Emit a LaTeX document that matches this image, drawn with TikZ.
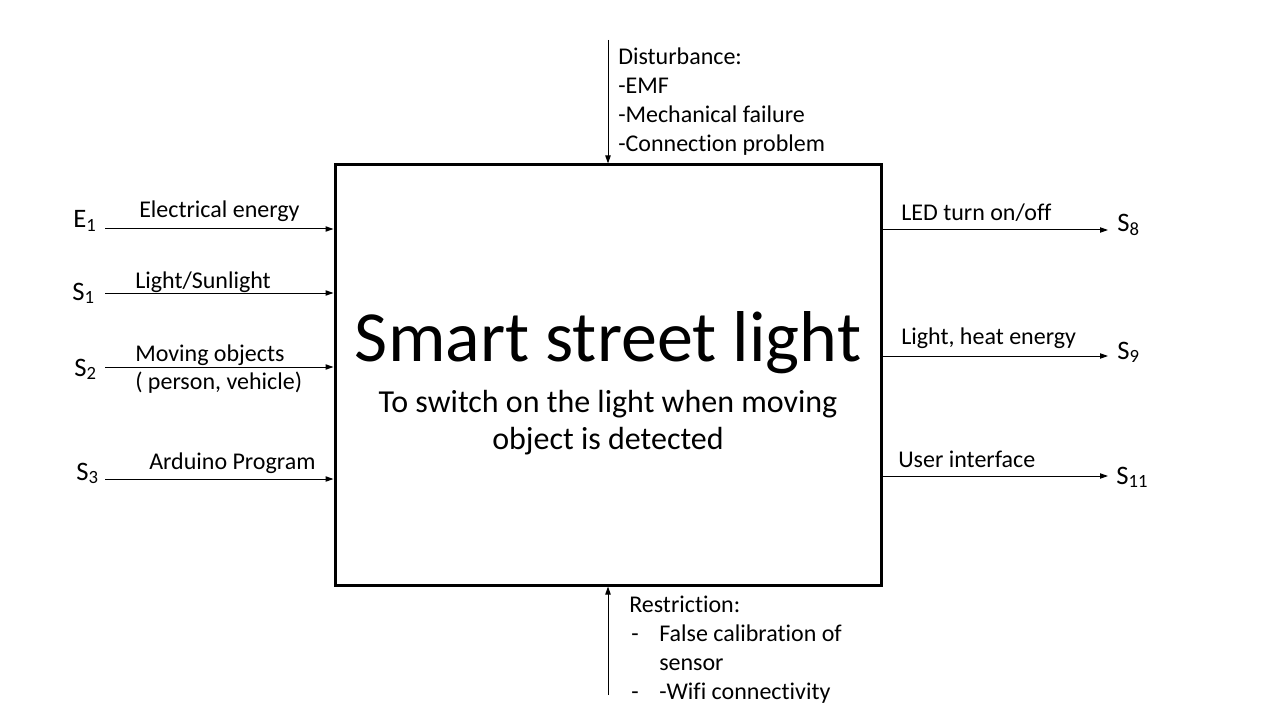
\documentclass[tikz,border=0pt]{standalone}
\usepackage{fontspec}
\setmainfont{Carlito}[Ligatures={NoCommon}]
\usetikzlibrary{arrows.meta}
\newcommand{\mysub}[1]{\raisebox{-0.12em}{\fontsize{14}{16}\selectfont #1}}
\begin{document}
\begin{tikzpicture}[x=0.75pt,y=-0.75pt,
  lbl/.style={font=\fontsize{18}{21.6}\selectfont, inner sep=0, anchor=base west},
  sym/.style={font=\fontsize{20}{24}\selectfont, inner sep=0, anchor=base west},
  arr/.style={-{Triangle[length=6pt,width=4pt]}, line width=0.75pt}]
\useasboundingbox (0,0) rectangle (1280,720);
\node (box) [draw, line width=2.25pt, inner sep=0, minimum width=409.5pt, minimum height=315pt] at (608,375) {};
\node (title) [inner sep=0, anchor=base, font=\fontsize{54}{64}\selectfont] at (608,361) {Smart street light};
\node (sub1) [inner sep=0, anchor=base, font=\fontsize{24}{28.8}\selectfont] at (608,412) {To switch on the light when moving};
\node (sub2) [inner sep=0, anchor=base, font=\fontsize{24}{28.8}\selectfont] at (608,449) {object is detected};
% inputs
\node (e1) [sym] at (73,228) {E\mysub{1}};
\node (s1) [sym] at (72,300) {S\mysub{1}};
\node (s2) [sym] at (74,376) {S\mysub{2}};
\node (s3) [sym] at (76,480) {S\mysub{3}};
\coordinate (ie1) at (105,229);
\coordinate (is1) at (105,293);
\coordinate (is2) at (105,367);
\coordinate (is3) at (105,479);
\draw[arr] (ie1) -- (box.west |- ie1);
\draw[arr] (is1) -- (box.west |- is1);
\draw[arr] (is2) -- (box.west |- is2);
\draw[arr] (is3) -- (box.west |- is3);
\node (le1) [lbl] at (139,218) {Electrical energy};
\node (ls1) [lbl] at (135,288) {Light/Sunlight};
\node (ls2a) [lbl] at (135,361) {Moving objects};
\node (ls2b) [lbl] at (135,389) {( person, vehicle)};
\node (ls3) [lbl] at (149,469) {Arduino Program};
% outputs
\coordinate (o8) at (1108,230);
\coordinate (o9) at (1108,356);
\coordinate (o11) at (1108,476);
\draw[arr] (box.east |- o8) -- (o8);
\draw[arr] (box.east |- o9) -- (o9);
\draw[arr] (box.east |- o11) -- (o11);
\node (s8) [sym] at (1117,232) {S\mysub{8}};
\node (s9) [sym] at (1117,359) {S\mysub{9}};
\node (s11) [sym] at (1116,484) {S\mysub{11}};
\node (l8) [lbl] at (901,220) {LED turn on/off};
\node (l9) [lbl] at (901,344) {Light, heat energy};
\node (l11) [lbl] at (898,467) {User interface};
% disturbance
\coordinate (dtop) at (608,40);
\draw[arr] (dtop) -- (box.north);
\node (d0) [lbl] at (618,65) {Disturbance:};
\node (d1) [lbl] at (618,94) {-EMF};
\node (d2) [lbl] at (618,123) {-Mechanical failure};
\node (d3) [lbl] at (618,152) {-Connection problem};
% restriction
\coordinate (rbot) at (608,695);
\draw[arr] (rbot) -- (box.south);
\node (r0) [lbl] at (629,612) {Restriction:};
\node (r1d) [lbl] at (631,641) {-};
\node (r1) [lbl] at (659,641) {False calibration of};
\node (r1b) [lbl] at (659,670) {sensor};
\node (r2d) [lbl] at (631,699) {-};
\node (r2) [lbl] at (659,699) {-Wifi connectivity};
\end{tikzpicture}
\end{document}
